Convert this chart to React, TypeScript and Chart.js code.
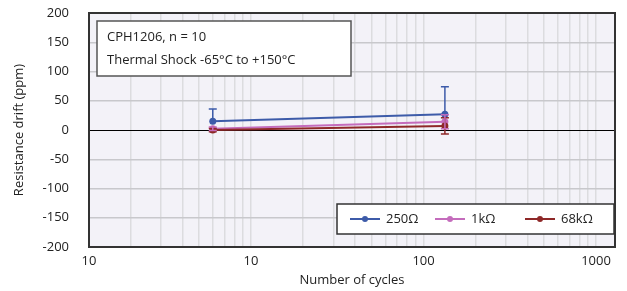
import { useEffect, useRef } from 'react';
import { Chart, registerables } from 'chart.js';

Chart.register(...registerables);

// ---- data ----
const seriesLabels = ['250Ω', '1kΩ', '68kΩ'];
const seriesColors = ['#3d5ba9', '#c46cbc', '#8e2828'];
const cycles = [6, 133];
const drift250 = [15, 27];
const drift1k = [2, 14];
const drift68k = [0, 7];
const errPlus250 = [21, 47];
const errMinus250 = [0, 0];
const errPlus1k = [3, 12];
const errMinus1k = [3, 12];
const errPlus68k = [3, 14];
const errMinus68k = [3, 14];
const xMin = 1.15;
const xMax = 1288;
const xTickValues = [1.15, 10, 100, 1000];
const xTickLabels = ['10', '10', '100', '1000'];
const yMin = -200;
const yMax = 200;
const yStep = 50;
const noteLines = ['CPH1206, n = 10', 'Thermal Shock -65°C to +150°C'];
const xTitle = 'Number of cycles';
const yTitle = 'Resistance drift (ppm)';

const FONT = "'Open Sans', sans-serif";

function buildXTicks(): number[] {
  const out: number[] = [xMin];
  for (let d = 1; d <= 1000; d *= 10) {
    for (let m = 1; m <= 9; m++) {
      const v = m * d;
      if (v > xMin && v <= xMax) out.push(v);
    }
  }
  return out;
}

export default function App() {
  const ref = useRef<HTMLCanvasElement | null>(null);

  useEffect(() => {
    document.body.style.margin = '0';
    const canvas = ref.current;
    if (!canvas) return;

    const values = [drift250, drift1k, drift68k];
    const plus = [errPlus250, errPlus1k, errPlus68k];
    const minus = [errMinus250, errMinus1k, errMinus68k];
    const orders = [2, 1, 0];

    const datasets = seriesLabels.map((label, i) => ({
      label,
      data: cycles.map((c, j) => ({ x: c, y: values[i][j] })),
      borderColor: seriesColors[i],
      backgroundColor: seriesColors[i],
      borderWidth: 2,
      pointRadius: 3.5,
      pointBorderWidth: 0,
      pointHoverRadius: 3.5,
      order: orders[i],
      errPlus: plus[i],
      errMinus: minus[i],
    }));

    const bgPlugin = {
      id: 'bg',
      beforeDraw(chart: any) {
        const { ctx, chartArea: a } = chart;
        ctx.save();
        ctx.fillStyle = '#ffffff';
        ctx.fillRect(0, 0, chart.width, chart.height);
        ctx.fillStyle = '#f3f2f8';
        ctx.fillRect(a.left, a.top, a.right - a.left, a.bottom - a.top);
        ctx.restore();
      },
    };

    const errPlugin = {
      id: 'err',
      afterDatasetsDraw(chart: any) {
        const { ctx } = chart;
        const xs = chart.scales.x;
        const ys = chart.scales.y;
        const idx = [2, 1, 0];
        ctx.save();
        ctx.lineWidth = 1.5;
        idx.forEach((i) => {
          const ds: any = chart.data.datasets[i];
          ctx.strokeStyle = ds.borderColor;
          ds.data.forEach((p: any, j: number) => {
            const px = xs.getPixelForValue(p.x);
            const top = ys.getPixelForValue(p.y + ds.errPlus[j]);
            const bot = ys.getPixelForValue(p.y - ds.errMinus[j]);
            ctx.beginPath();
            ctx.moveTo(px, top);
            ctx.lineTo(px, bot);
            if (ds.errPlus[j] > 0) {
              ctx.moveTo(px - 4, top);
              ctx.lineTo(px + 4, top);
            }
            if (ds.errMinus[j] > 0) {
              ctx.moveTo(px - 4, bot);
              ctx.lineTo(px + 4, bot);
            }
            ctx.stroke();
          });
        });
        ctx.restore();
      },
    };

    const overlayPlugin = {
      id: 'overlay',
      afterDraw(chart: any) {
        const { ctx, chartArea: a } = chart;
        ctx.save();
        // frame
        ctx.strokeStyle = '#333333';
        ctx.lineWidth = 2;
        ctx.strokeRect(a.left, a.top, a.right - a.left, a.bottom - a.top);

        // note box
        ctx.fillStyle = '#ffffff';
        ctx.fillRect(97, 21, 254, 55);
        ctx.strokeStyle = '#555555';
        ctx.lineWidth = 1.5;
        ctx.strokeRect(97, 21, 254, 55);
        ctx.fillStyle = '#222222';
        ctx.font = `13px ${FONT}`;
        ctx.textBaseline = 'middle';
        ctx.textAlign = 'left';
        ctx.fillText(noteLines[0], 107, 37);
        ctx.fillText(noteLines[1], 107, 60);

        // legend
        ctx.fillStyle = '#ffffff';
        ctx.fillRect(337, 204, 277, 30);
        ctx.strokeStyle = '#333333';
        ctx.lineWidth = 1.5;
        ctx.strokeRect(337, 204, 277, 30);
        const lx = [350, 435, 525];
        const ly = 219;
        seriesLabels.forEach((lab, i) => {
          ctx.strokeStyle = seriesColors[i];
          ctx.fillStyle = seriesColors[i];
          ctx.lineWidth = 2;
          ctx.beginPath();
          ctx.moveTo(lx[i], ly);
          ctx.lineTo(lx[i] + 30, ly);
          ctx.stroke();
          ctx.beginPath();
          ctx.arc(lx[i] + 15, ly, 3, 0, Math.PI * 2);
          ctx.fill();
          ctx.fillStyle = '#222222';
          ctx.fillText(lab, lx[i] + 36, ly);
        });
        ctx.restore();
      },
    };

    const xTicks = buildXTicks();

    const chart = new Chart(canvas, {
      type: 'line',
      data: { datasets: datasets as any },
      options: {
        animation: false,
        responsive: false,
        devicePixelRatio: 1,
        layout: { padding: { top: 13, right: 12, left: 0, bottom: 0 } },
        plugins: {
          legend: { display: false },
          tooltip: { enabled: false },
        },
        scales: {
          x: {
            type: 'logarithmic',
            min: xMin,
            max: xMax,
            bounds: 'data',
            afterBuildTicks: (scale: any) => {
              scale.ticks = xTicks.map((v) => ({ value: v }));
            },
            afterFit: (scale: any) => {
              scale.height = 44;
              scale.paddingLeft = 0;
              scale.paddingRight = 0;
              scale.paddingTop = 0;
              scale.paddingBottom = 0;
            },
            grid: {
              color: '#dcdcdf',
              lineWidth: 1.5,
              drawTicks: false,
            },
            border: { display: false },
            ticks: {
              autoSkip: false,
              maxRotation: 0,
              padding: 6,
              color: '#222222',
              font: { family: FONT, size: 13 },
              callback: (value: any) => {
                const i = xTickValues.findIndex((v) => Math.abs(v - Number(value)) < 1e-6);
                return i >= 0 ? xTickLabels[i] : '';
              },
            },
            title: {
              display: true,
              text: xTitle,
              color: '#222222',
              font: { family: FONT, size: 13 },
              padding: { top: 0, bottom: 3 },
            },
          },
          y: {
            type: 'linear',
            min: yMin,
            max: yMax,
            afterFit: (scale: any) => {
              scale.width = 89;
              scale.paddingTop = 0;
              scale.paddingBottom = 0;
              scale.paddingLeft = 0;
              scale.paddingRight = 0;
            },
            grid: {
              color: (c: any) => (c.tick && c.tick.value === 0 ? '#000000' : '#c8c8cc'),
              lineWidth: (c: any) => (c.tick && c.tick.value === 0 ? 1 : 1.5),
              drawTicks: false,
            },
            border: { display: false },
            ticks: {
              stepSize: yStep,
              padding: 20,
              color: '#222222',
              font: { family: FONT, size: 13 },
            },
            title: {
              display: true,
              text: yTitle,
              color: '#222222',
              font: { family: FONT, size: 13 },
              padding: { top: 11, bottom: 0 },
            },
          },
        },
      },
      plugins: [bgPlugin, errPlugin, overlayPlugin],
    });

    return () => chart.destroy();
  }, []);

  return (
    <div style={{ width: 627, height: 291 }}>
      <canvas ref={ref} width={627} height={291} style={{ display: 'block' }} />
    </div>
  );
}
